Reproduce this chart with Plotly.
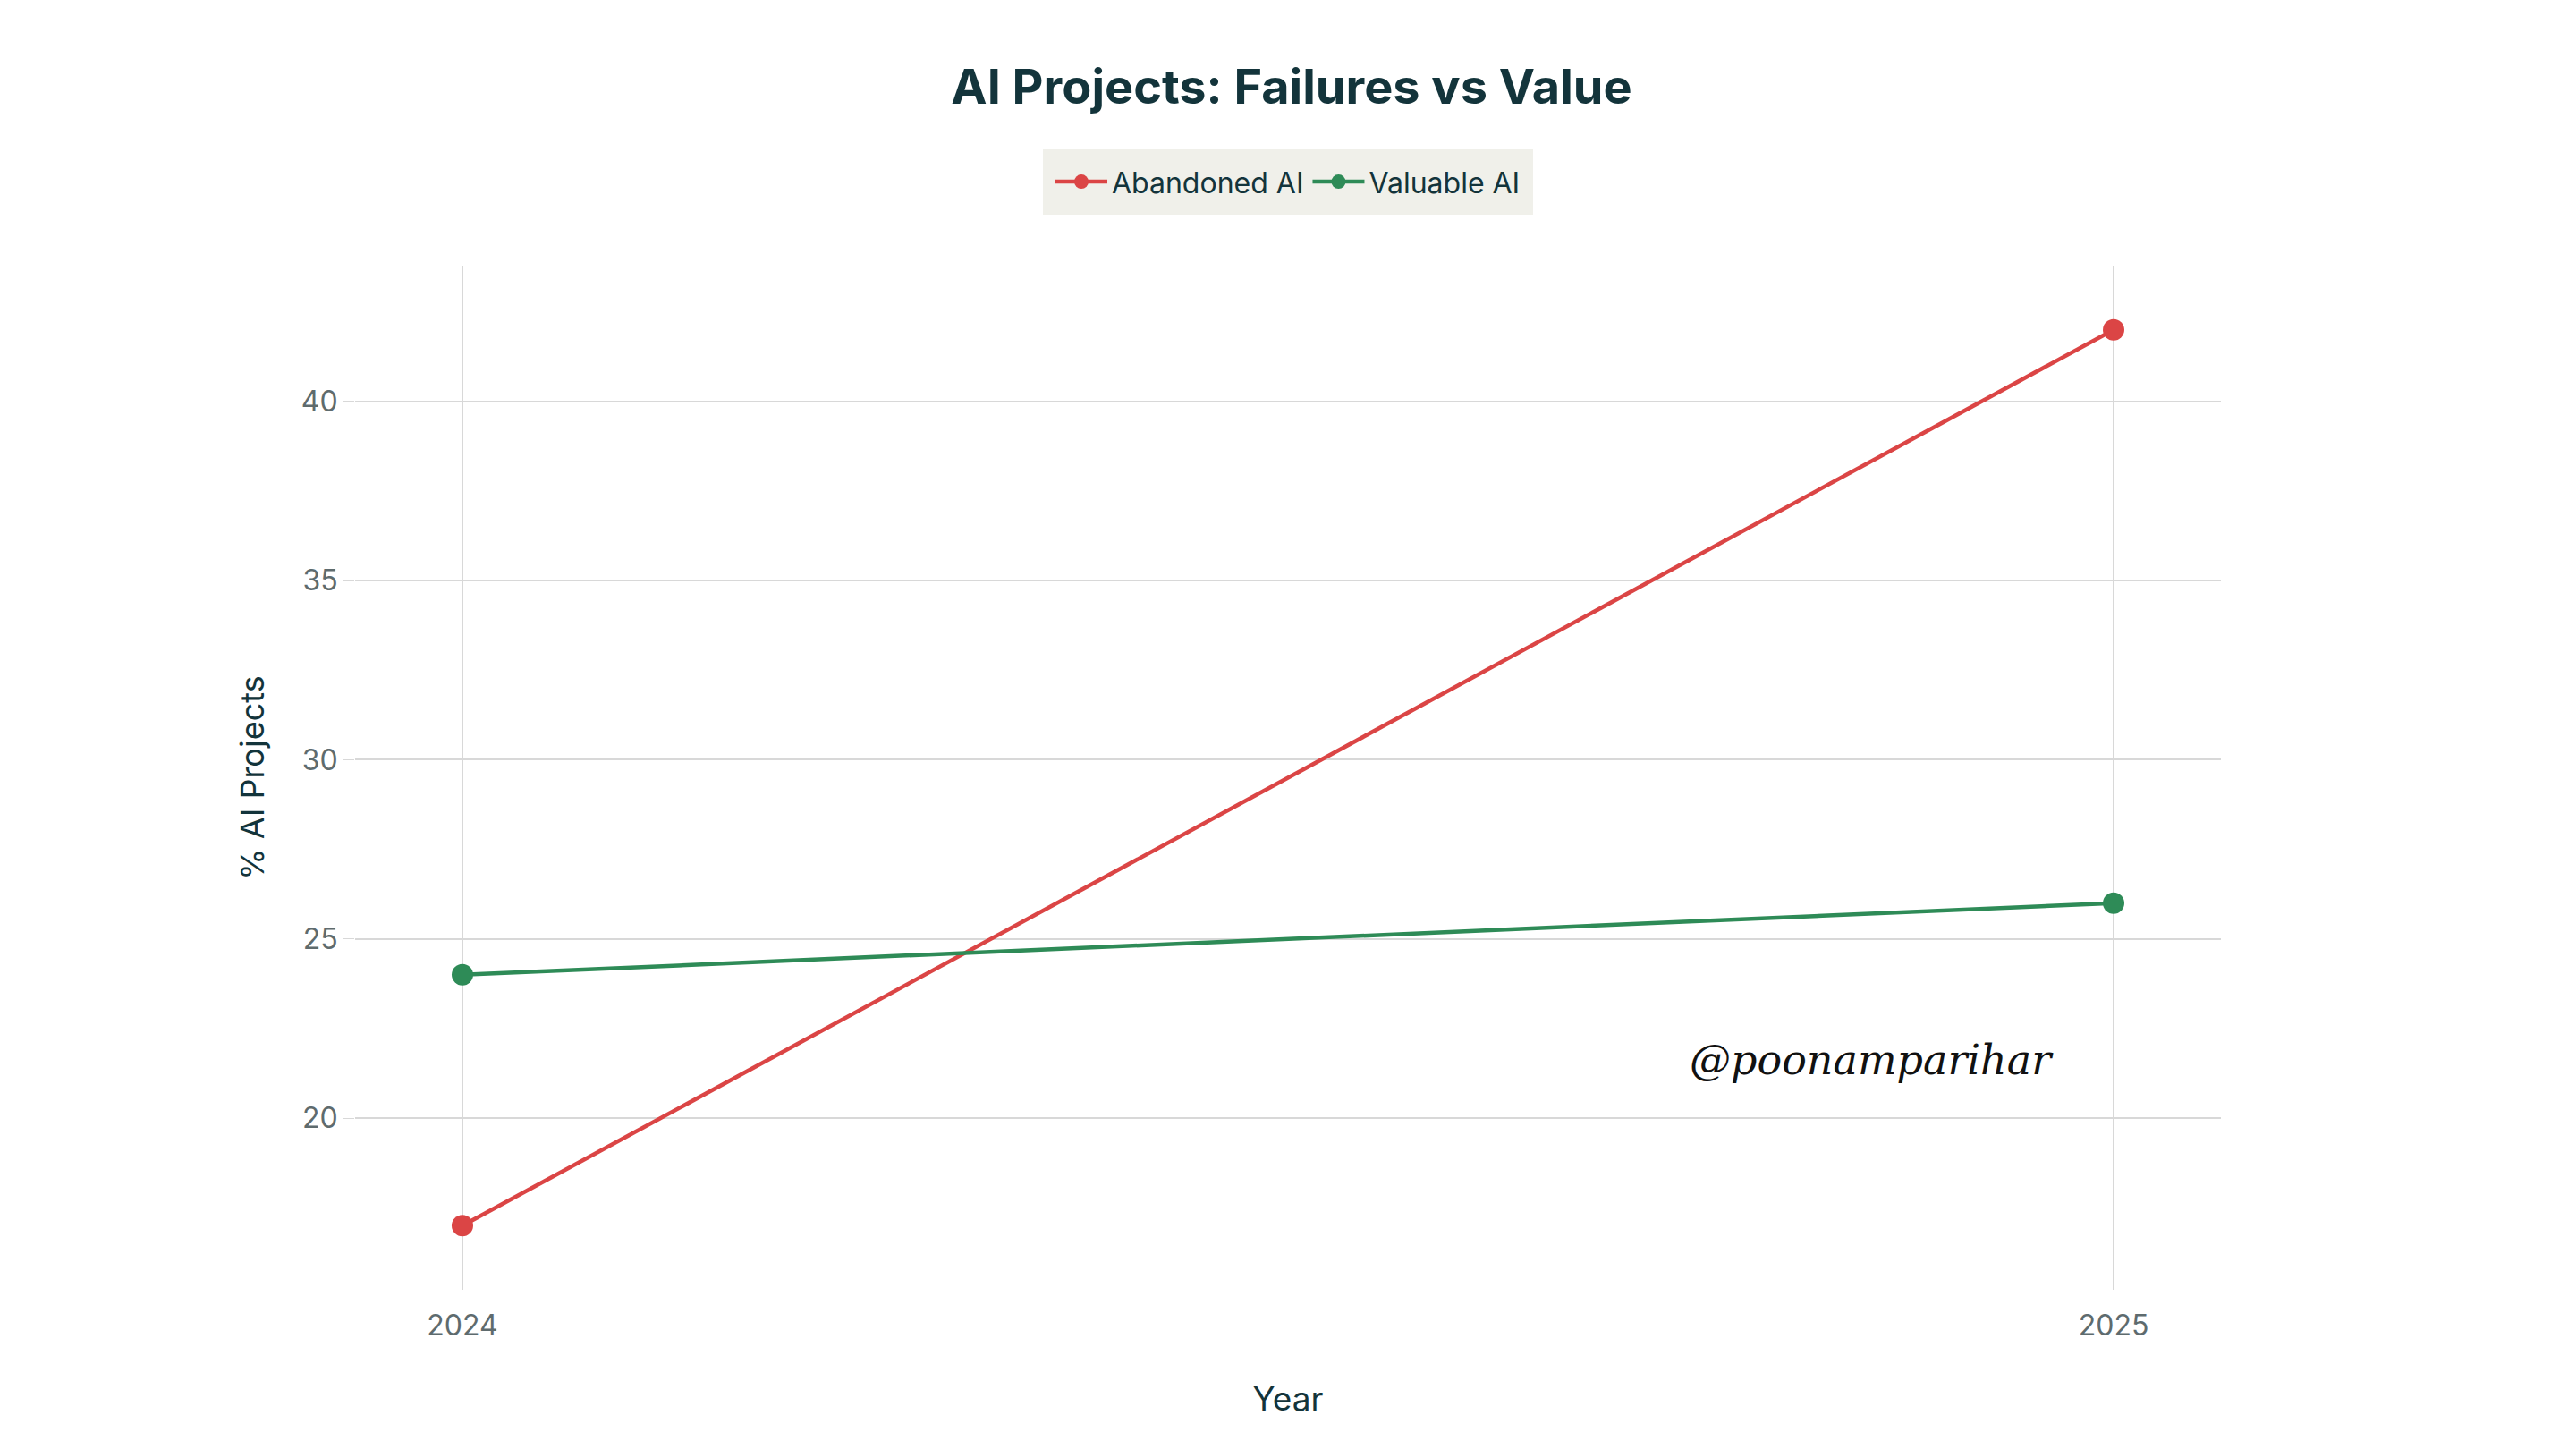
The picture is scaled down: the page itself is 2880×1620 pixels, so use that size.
import plotly.graph_objects as go

years = [2024, 2025]
abandoned_ai = [17, 42]
valuable_ai = [24, 26]

RED = "#DB4545"
GREEN = "#2E8B57"
TEXT = "#13343B"
TICK = "#5E6B6E"
GRID = "#D8D8D8"
LEGEND_BG = "#F0F0EA"

fig = go.Figure()
fig.add_trace(
    go.Scatter(
        x=years,
        y=abandoned_ai,
        mode="lines+markers",
        name="Abandoned AI",
        line=dict(color=RED, width=4.5),
        marker=dict(color=RED, size=24),
    )
)
fig.add_trace(
    go.Scatter(
        x=years,
        y=valuable_ai,
        mode="lines+markers",
        name="Valuable AI",
        line=dict(color=GREEN, width=4.5),
        marker=dict(color=GREEN, size=24),
    )
)

# signature watermark
fig.add_annotation(
    text="@poonamparihar",
    xref="paper",
    yref="paper",
    x=0.813,
    y=0.2245,
    xanchor="center",
    yanchor="middle",
    showarrow=False,
    font=dict(family="DejaVu Serif", size=46, color="#111111", style="italic"),
)

# page body adds an 8px offset, so the figure is trimmed to match
fig.update_layout(
    width=2872,
    height=1612,
    paper_bgcolor="white",
    plot_bgcolor="white",
    font=dict(family="Inter, Noto Sans, sans-serif", color=TEXT),
    margin=dict(l=389, r=397, t=289, b=178),
    title=dict(
        text="<b>AI Projects: Failures vs Value</b>",
        x=0.5,
        xanchor="center",
        y=0.945,
        yanchor="middle",
        font=dict(size=54, color=TEXT),
    ),
    legend=dict(
        orientation="h",
        x=0.5,
        xanchor="center",
        y=1.05,
        yanchor="bottom",
        bgcolor=LEGEND_BG,
        bordercolor=LEGEND_BG,
        borderwidth=9,
        font=dict(size=32, color=TEXT),
        itemsizing="trace",
        itemwidth=58,
    ),
    showlegend=True,
)

fig.update_xaxes(
    title=dict(text="Year", font=dict(size=37, color=TEXT), standoff=50),
    range=[2023.935, 2025.065],
    tickvals=years,
    ticktext=[str(y) for y in years],
    tickfont=dict(size=32, color=TICK),
    showgrid=True,
    gridcolor=GRID,
    gridwidth=2,
    zeroline=False,
    showline=False,
    ticks="outside",
    ticklen=12,
    tickcolor=GRID,
)
fig.update_yaxes(
    title=dict(text="% AI Projects", font=dict(size=36, color=TEXT), standoff=30),
    range=[15.21, 43.79],
    tickvals=[20, 25, 30, 35, 40],
    tickfont=dict(size=32, color=TICK),
    showgrid=True,
    gridcolor=GRID,
    gridwidth=2,
    zeroline=False,
    showline=False,
    ticks="outside",
    ticklen=12,
    tickcolor=GRID,
)

fig.write_html("out.html")
